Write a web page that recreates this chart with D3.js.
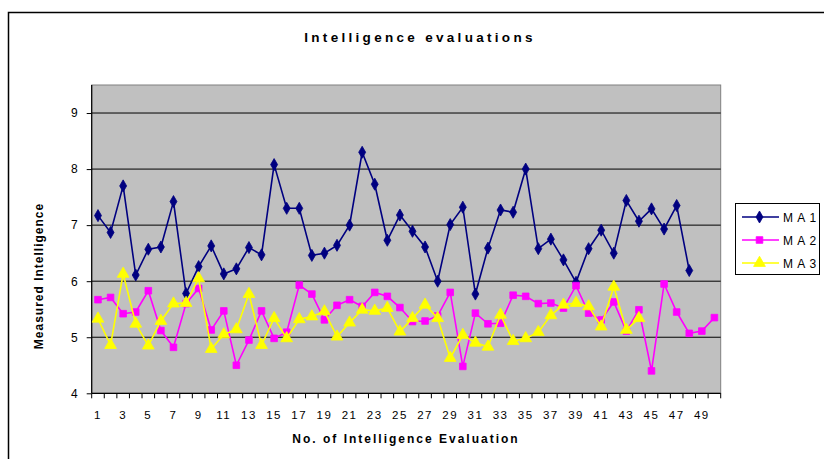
<!DOCTYPE html>
<html><head><meta charset="utf-8">
<script src="https://cdn.jsdelivr.net/npm/d3@7"></script>
<style>
html,body{margin:0;padding:0;background:#fff;}
svg{display:block;font-family:"Liberation Sans",Arial,sans-serif;}
</style></head>
<body>
<svg id="chart" width="824" height="459"></svg>
<script>
const categories = d3.range(1, 51);
const ma1 = [7.17,6.87,7.70,6.11,6.57,6.61,7.42,5.78,6.26,6.63,6.13,6.22,6.60,6.47,8.08,7.30,7.30,6.46,6.50,6.64,7.00,8.30,7.73,6.73,7.18,6.89,6.61,6.00,7.01,7.32,5.77,6.59,7.27,7.23,8.00,6.58,6.75,6.38,5.98,6.58,6.91,6.50,7.44,7.07,7.29,6.93,7.35,6.19];
const ma2 = [5.67,5.71,5.42,5.45,5.83,5.12,4.82,5.60,5.87,5.13,5.47,4.50,4.95,5.47,4.98,5.09,5.93,5.77,5.31,5.57,5.67,5.55,5.80,5.73,5.53,5.28,5.29,5.38,5.80,4.48,5.43,5.24,5.25,5.75,5.73,5.60,5.61,5.52,5.92,5.43,5.31,5.63,5.11,5.49,4.40,5.95,5.45,5.07,5.11,5.35];
const ma3 = [5.33,4.86,6.13,5.24,4.85,5.29,5.60,5.61,6.05,4.79,5.05,5.14,5.77,4.86,5.34,4.98,5.32,5.37,5.46,5.01,5.26,5.49,5.47,5.52,5.10,5.34,5.58,5.34,4.63,5.04,4.90,4.83,5.40,4.93,4.98,5.09,5.39,5.58,5.61,5.55,5.19,5.90,5.13,5.34];
const yTicks = [4,5,6,7,8,9];
const seriesNames = ["MA1","MA2","MA3"];
const legendLabels = ["M A 1","M A 2","M A 3"];
const title = "Intelligence evaluations";
const xTitle = "No. of Intelligence Evaluation";
const yTitle = "Measured Intelligence";

const svg = d3.select("#chart");
const L = 91.7, R = 720.7, T = 85, B = 393.3;

// outer frame
svg.append("rect").attr("x",8.5).attr("y",12.5).attr("width",840).attr("height",470)
  .attr("fill","#fff").attr("stroke","#000").attr("stroke-width",1.5);

const x = d3.scaleBand().domain(categories).range([L,R]).padding(0);
const y = d3.scaleLinear().domain([4,9.5]).range([B,T]);
const cx = d => x(d) + x.bandwidth()/2;

// plot area
svg.append("rect").attr("x",L).attr("y",T).attr("width",R-L).attr("height",B-T)
  .attr("fill","#C0C0C0").attr("stroke","#808080").attr("stroke-width",1);

// gridlines
svg.append("g").selectAll("line").data(yTicks.filter(v=>v>4)).join("line")
  .attr("x1",L).attr("x2",R).attr("y1",d=>y(d)).attr("y2",d=>y(d))
  .attr("stroke","#000").attr("stroke-width",1);

// y axis
const yAxis = d3.axisLeft(y).tickValues(yTicks).tickSize(5).tickPadding(9).tickFormat(d3.format("d"));
const gy = svg.append("g").attr("transform",`translate(${L},0)`).call(yAxis);
gy.select(".domain").attr("d",`M0,${T}V${B}`).attr("stroke","#000").attr("stroke-width",1.2);
gy.selectAll("text").attr("font-size",12).attr("fill","#000").attr("font-family","Liberation Sans, Arial, sans-serif");

// x axis
const bounds = categories.map(c=>x(c)).concat([R]);
svg.append("line").attr("x1",L).attr("x2",R).attr("y1",B).attr("y2",B).attr("stroke","#000").attr("stroke-width",1.2);
svg.append("g").selectAll("line").data(bounds).join("line")
  .attr("x1",d=>d).attr("x2",d=>d).attr("y1",B).attr("y2",B+5).attr("stroke","#000").attr("stroke-width",1);
svg.append("g").selectAll("text").data(categories.filter(c=>c%2===1)).join("text")
  .attr("x",d=>cx(d)).attr("y",B+26).attr("text-anchor","middle")
  .attr("font-size",11.5).style("letter-spacing","1.5px").attr("fill","#000")
  .text(d=>d);

// titles
svg.append("text").attr("x",420).attr("y",42).attr("text-anchor","middle")
  .attr("font-size",13.5).attr("font-weight","bold").style("letter-spacing","3.3px").text(title);
svg.append("text").attr("x",406).attr("y",443).attr("text-anchor","middle")
  .attr("font-size",12).attr("font-weight","bold").style("letter-spacing","2px").text(xTitle);
svg.append("text").attr("transform","translate(43,276) rotate(-90)").attr("text-anchor","middle")
  .attr("font-size",12).attr("font-weight","bold").style("letter-spacing","1px").text(yTitle);

const colors = ["#000080","#FF00FF","#FFFF00"];
const symbols = [d3.symbolDiamond, d3.symbolSquare, d3.symbolTriangle];
const sizes = [42, 44, 60];
const data = [ma1, ma2, ma3];

const line = d3.line().x((d,i)=>cx(categories[i])).y(d=>y(d));
data.forEach((vals,k)=>{
  const g = svg.append("g");
  g.append("path").datum(vals).attr("d",line).attr("fill","none")
    .attr("stroke",colors[k]).attr("stroke-width",1.6);
  g.selectAll("path.m").data(vals).join("path").attr("class","m")
    .attr("transform",(d,i)=>`translate(${cx(categories[i])},${y(d)})`)
    .attr("d",d3.symbol().type(symbols[k]).size(sizes[k]))
    .attr("fill",colors[k]).attr("stroke",colors[k]).attr("stroke-width",0.8);
});

// legend
const lg = svg.append("g");
lg.append("rect").attr("x",735.5).attr("y",203.5).attr("width",84).attr("height",71)
  .attr("fill","#fff").attr("stroke","#000").attr("stroke-width",1);
seriesNames.forEach((s,k)=>{
  const yy = 217 + k*23;
  lg.append("line").attr("x1",742).attr("x2",779).attr("y1",yy).attr("y2",yy)
    .attr("stroke",colors[k]).attr("stroke-width",1.6);
  lg.append("path").attr("transform",`translate(759.5,${yy})`)
    .attr("d",d3.symbol().type(symbols[k]).size(sizes[k]))
    .attr("fill",colors[k]).attr("stroke",colors[k]).attr("stroke-width",0.8);
  lg.append("text").attr("x",783).attr("y",yy+4.5).attr("font-size",12)
    .style("letter-spacing","0.8px").text(legendLabels[k]);
});
</script>
</body></html>
